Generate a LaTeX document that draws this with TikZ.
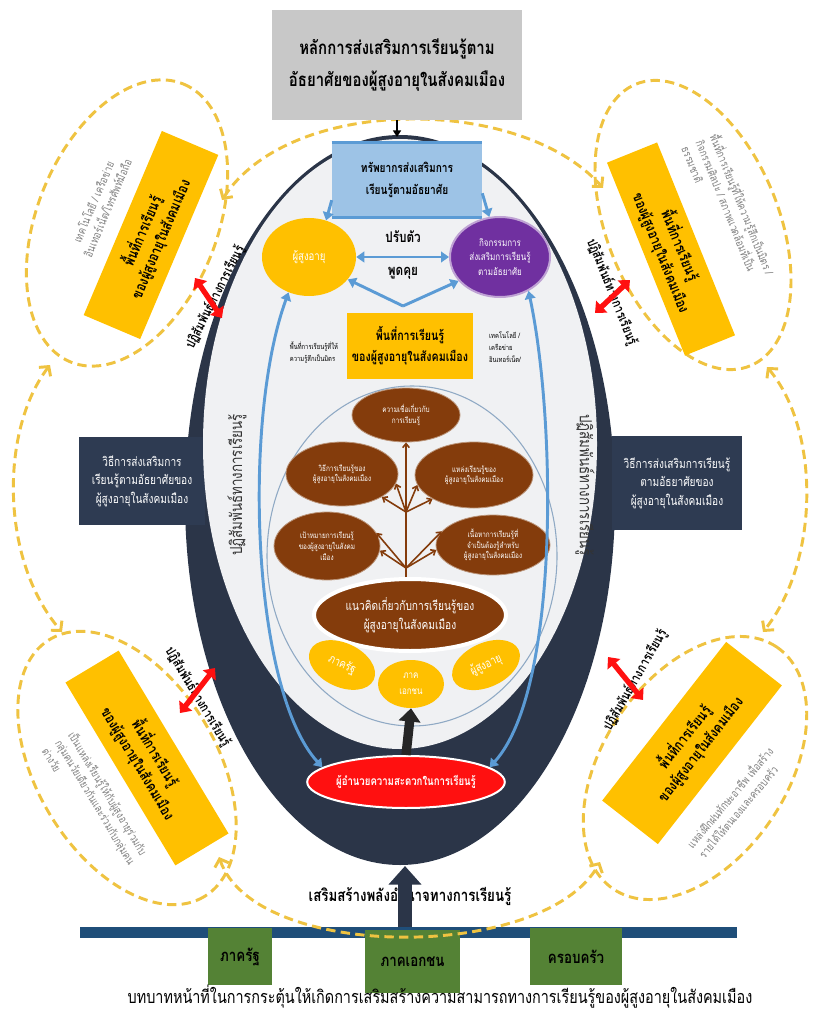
\documentclass[tikz,border=0pt]{standalone}
\usepackage{fontspec}
\setmainfont[Script=Thai,FakeStretch=0.8]{Loma}
\usetikzlibrary{arrows.meta,shapes.geometric}
\definecolor{ringc}{HTML}{2B3548}
\definecolor{navyb}{HTML}{2E3B52}
\definecolor{innerc}{HTML}{F0F1F3}
\definecolor{ylw}{HTML}{FFC000}
\definecolor{dashc}{HTML}{EFC341}
\definecolor{bluea}{HTML}{5B9BD5}
\definecolor{blueb}{HTML}{9DC3E6}
\definecolor{purp}{HTML}{7030A0}
\definecolor{brownc}{HTML}{843C0C}
\definecolor{grn}{HTML}{548235}
\definecolor{barc}{HTML}{1F4E79}
\definecolor{grayb}{HTML}{C8C8C8}
\definecolor{txtg}{HTML}{808080}
\definecolor{redc}{HTML}{FF1010}
\definecolor{thinc}{HTML}{8FA9C4}
\newcommand{\fsz}[2]{\fontsize{#1}{#2}\selectfont}
\tikzset{
  dashy/.style={draw=dashc, line width=2.2pt, dash pattern=on 7pt off 4pt},
  chevs/.style={{Straight Barb[length=5pt,width=11pt]}-{Straight Barb[length=5pt,width=11pt]}},
  cornerbox/.style={fill=ylw, align=center, font=\bfseries\fsz{11}{15}, inner sep=1pt},
  graytext/.style={text=txtg, font=\fsz{8.5}{11.5}},
  ringtext/.style={font=\bfseries\fsz{10}{12}},
  redarrow/.style={draw=redc, line width=4pt, {Triangle[length=7pt,width=12pt]}-{Triangle[length=7pt,width=12pt]}},
  navybox/.style={fill=navyb, text=white, align=center, font=\fsz{9.5}{14}, inner sep=1pt},
  brownnode/.style={ellipse, fill=brownc, draw=brownc!55!white, line width=0.6pt, text=white, align=center, font=\fsz{6}{8}, inner sep=0pt},
  yellownode/.style={ellipse, fill=ylw, text=white, align=center, inner sep=0pt},
  bluearrow/.style={draw=bluea, line width=2.2pt, -{Triangle[length=6pt,width=8pt]}},
  bluedouble/.style={draw=bluea, line width=2.2pt, {Triangle[length=6pt,width=8pt]}-{Triangle[length=6pt,width=8pt]}},
  brownarrow/.style={draw=brownc, line width=1.2pt, -{Straight Barb[length=3pt,width=5pt]}},
  greenbox/.style={fill=grn, text=black, font=\bfseries\fsz{12.5}{14}, inner sep=0pt},
  verttext/.style={font=\fsz{12.5}{14}, text=black!80},
}
\begin{document}
\begin{tikzpicture}[x=0.75pt,y=-0.75pt]
\useasboundingbox (0,0) rectangle (817,1012);
\fill[white] (0,0) rectangle (817,1012);

% corner dashed ellipses
\draw[dashy, rotate around={68:(127,223)}] (127,223) ellipse [x radius=150, y radius=90];
\draw[dashy, rotate around={-68:(693,225)}] (693,225) ellipse [x radius=152, y radius=86];
\draw[dashy, rotate around={-59:(127,768)}] (127,768) ellipse [x radius=150, y radius=90];
\draw[dashy, rotate around={56:(695,768)}] (695,768) ellipse [x radius=146, y radius=92];

% connecting dashed arcs
\coordinate (tlA) at (222,200); \coordinate (trA) at (603,188);
\draw[dashy, chevs] (tlA) .. controls (290,95) and (520,95) .. (trA);
\coordinate (tlB) at (50,365); \coordinate (blB) at (62,632);
\draw[dashy, chevs] (tlB) .. controls (0,430) and (0,560) .. (blB);
\coordinate (trB) at (767,367); \coordinate (brB) at (763,632);
\draw[dashy, chevs] (trB) .. controls (820,430) and (820,560) .. (brB);

% corner boxes and texts
\node[cornerbox, rotate=67, minimum width=150pt, minimum height=46pt] (cTL) at (151,235) {พื้นที่การเรียนรู้\\ของผู้สูงอายุในสังคมเมือง};
\node[graytext, rotate=67, align=center] (gTL) at (100,205) {เทคโนโลยี / เครือข่าย\\อินเทอร์เน็ต/โทรศัพท์มือถือ};
\node[cornerbox, rotate=-68, minimum width=156pt, minimum height=40.5pt] (cTR) at (671,249) {พื้นที่การเรียนรู้\\ของผู้สูงอายุในสังคมเมือง};
\node[graytext, rotate=-68, align=left] (gTR) at (729,210) {พื้นที่การเรียนรู้ที่ให้ความรู้สึกเป็นมิตร /\\กิจกรรมศิลปะ / สภาพแวดล้อมที่เป็น\\ธรรมชาติ};
\node[cornerbox, rotate=-59, minimum width=160pt, minimum height=46.5pt] (cBL) at (147,758) {พื้นที่การเรียนรู้\\ของผู้สูงอายุในสังคมเมือง};
\node[graytext, rotate=-59, align=left] (gBL) at (96,802) {เป็นแหล่งเรียนรู้ให้กับผู้สูงอายุร่วมกับ\\กลุ่มคนวัยเดียวกันและร่วมกับกลุ่มคน\\ต่างวัย};
\node[cornerbox, rotate=52, minimum width=151pt, minimum height=53pt] (cBR) at (692,743) {พื้นที่การเรียนรู้\\ของผู้สูงอายุในสังคมเมือง};
\node[graytext, rotate=50, align=left] (gBR) at (735,802) {แหล่งฝึกฝนทักษะอาชีพ เพื่อสร้าง\\รายได้ให้ตนเองและครอบครัว};

% ring
\fill[ringc] (400,500) ellipse [x radius=215, y radius=365];
\node[navybox, minimum width=94pt, minimum height=66pt] (navyL) at (142,481) {วิธีการส่งเสริมการ\\เรียนรู้ตามอัธยาศัยของ\\ผู้สูงอายุในสังคมเมือง};
\node[navybox, minimum width=97.5pt, minimum height=70pt] (navyR) at (677,483) {วิธีการส่งเสริมการเรียนรู้\\ตามอัธยาศัยของ\\ผู้สูงอายุในสังคมเมือง};
\fill[innerc] (400,444) ellipse [x radius=197, y radius=305];
\draw[thinc, line width=0.8pt] (412,556) ellipse [x radius=145, y radius=170];

% ring texts and red arrows
\node[ringtext, rotate=63] (rtTL) at (215,297) {ปฏิสัมพันธ์ทางการเรียนรู้};
\node[ringtext, rotate=-68] (rtTR) at (612,292) {ปฏิสัมพันธ์ทางการเรียนรู้};
\node[ringtext, rotate=-59] (rtBL) at (198,697) {ปฏิสัมพันธ์ทางการเรียนรู้};
\node[ringtext, rotate=60] (rtBR) at (635,680) {ปฏิสัมพันธ์ทางการเรียนรู้};
\coordinate (raTL1) at (195,278); \coordinate (raTL2) at (222,318);
\coordinate (raTR1) at (595,313); \coordinate (raTR2) at (630,280);
\coordinate (raBL1) at (180,713); \coordinate (raBL2) at (215,668);
\coordinate (raBR1) at (608,657); \coordinate (raBR2) at (643,700);
\draw[redarrow] (raTL1) -- (raTL2);
\draw[redarrow] (raTR1) -- (raTR2);
\draw[redarrow] (raBL1) -- (raBL2);
\draw[redarrow] (raBR1) -- (raBR2);

% vertical texts inside
\node[verttext, rotate=90] (vL) at (237,485) {ปฏิสัมพันธ์ทางการเรียนรู้};
\node[verttext, rotate=-90] (vR) at (585,485) {ปฏิสัมพันธ์ทางการเรียนรู้};

% title box
\node[fill=grayb, minimum width=187.5pt, minimum height=82.5pt, align=center, font=\bfseries\fsz{14}{24}] (title) at (397,65) {หลักการส่งเสริมการเรียนรู้ตาม\\อัธยาศัยของผู้สูงอายุในสังคมเมือง};
\coordinate (ringtop) at (397,137);
\draw[line width=1.5pt, -{Triangle[length=5pt,width=6pt]}] (title.south) -- (ringtop);

% resources box
\node[fill=blueb, minimum width=112.5pt, minimum height=56pt, align=center, font=\bfseries\fsz{9.5}{17}] (res) at (407,180) {ทรัพยากรส่งเสริมการ\\เรียนรู้ตามอัธยาศัย};
\draw[bluea, line width=2.5pt] (res.north west) -- (res.north east);
\draw[bluea, line width=2.5pt] (res.south west) -- (res.south east);

\node[yellownode, minimum width=70.5pt, minimum height=58.5pt, font=\fsz{9}{11}] (eld) at (309,257) {ผู้สูงอายุ};
\node[ellipse, fill=purp, draw=purp!45!white, line width=1.5pt, text=white, align=center, inner sep=0pt, minimum width=75pt, minimum height=60pt, font=\fsz{7.5}{11}] (act) at (500,257) {กิจกรรมการ\\ส่งเสริมการเรียนรู้\\ตามอัธยาศัย};

\draw[bluearrow] (res.195) -- (eld.65);
\draw[bluearrow] (res.-10) -- (act.105);
\draw[bluedouble] (eld.east) -- (act.west);
\node[font=\bfseries\fsz{11}{12}] (adj) at (403,237) {ปรับตัว};
\node[font=\bfseries\fsz{11}{12}] (talk) at (403,273) {พูดคุย};
\coordinate (vtx) at (403,306);
\draw[bluearrow] (vtx) -- (eld.-30);
\draw[bluearrow] (vtx) -- (act.-150);

\node[fill=ylw, minimum width=94pt, minimum height=49pt, align=center, font=\bfseries\fsz{10}{16}] (area) at (410,346) {พื้นที่การเรียนรู้\\ของผู้สูงอายุในสังคมเมือง};
\node[font=\fsz{5.5}{9}, align=left] (smallL) at (314,353) {พื้นที่การเรียนรู้ที่ให้\\ความรู้สึกเป็นมิตร};
\node[font=\fsz{5.5}{9}, align=left] (smallR) at (505,347) {เทคโนโลยี /\\เครือข่าย\\อินเทอร์เน็ต/};

% brown nodes
\node[brownnode, minimum width=81pt, minimum height=40.5pt] (b1) at (406,415) {ความเชื่อเกี่ยวกับ\\การเรียนรู้};
\node[brownnode, minimum width=84pt, minimum height=48pt] (b2) at (342,474) {วิธีการเรียนรู้ของ\\ผู้สูงอายุในสังคมเมือง};
\node[brownnode, minimum width=88.5pt, minimum height=49.5pt] (b3) at (474,475) {แหล่งเรียนรู้ของ\\ผู้สูงอายุในสังคมเมือง};
\node[brownnode, minimum width=79.5pt, minimum height=51pt] (b4) at (327,546) {เป้าหมายการเรียนรู้\\ของผู้สูงอายุในสังคม\\เมือง};
\node[brownnode, minimum width=85.5pt, minimum height=45pt] (b5) at (493,545) {เนื้อหาการเรียนรู้ที่\\จำเป็นต้องรู้สำหรับ\\ผู้สูงอายุในสังคมเมือง};
\node[brownnode, draw=white, line width=3pt, minimum width=144pt, minimum height=54pt, font=\fsz{9.5}{14}] (b6) at (410,615) {แนวคิดเกี่ยวกับการเรียนรู้ของ\\ผู้สูงอายุในสังคมเมือง};

\draw[brownarrow] (b6.north -| b1.south) -- (b1.south);
\coordinate (j1) at (406,512);
\coordinate (j2) at (406,568);
\draw[brownarrow] (j1) -- (b2.-30);
\draw[brownarrow] (j1) -- (b2.-10);
\draw[brownarrow] (j1) -- (b3.-150);
\draw[brownarrow] (j1) -- (b3.-170);
\draw[brownarrow] (j2) -- (b4.-5);
\draw[brownarrow] (j2) -- (b4.15);
\draw[brownarrow] (j2) -- (b5.185);
\draw[brownarrow] (j2) -- (b5.165);

% yellow bottom nodes
\node[yellownode, rotate=-25, minimum width=52.5pt, minimum height=33pt, font=\fsz{9}{10}] (yg) at (342,665) {ภาครัฐ};
\node[yellownode, minimum width=49.5pt, minimum height=36pt, font=\fsz{7.5}{12}] (yp) at (411,684) {ภาค\\เอกชน};
\node[yellownode, rotate=25, minimum width=54pt, minimum height=33pt, font=\fsz{9}{10}] (ye) at (486,665) {ผู้สูงอายุ};

% facilitator
\node[ellipse, fill=redc, draw=white, line width=1.5pt, minimum width=142.5pt, minimum height=39pt, text=white, font=\bfseries\fsz{9}{10}, inner sep=0pt] (fac) at (406,782) {ผู้อำนวยความสะดวกในการเรียนรู้};
\draw[line width=7pt, draw=black!85, -{Triangle[length=10pt,width=16pt]}] (fac.north) -- (yp.south);
\draw[bluedouble] (fac.170) .. controls (252,690) and (242,420) .. (eld.-120);
\draw[bluedouble] (fac.10) .. controls (560,690) and (556,420) .. (act.-50);

% bottom
\fill[barc] (80,927) rectangle (737,938);
\node[greenbox, minimum width=48pt, minimum height=42.75pt] (g1) at (240,956.5) {ภาครัฐ};
\node[greenbox, minimum width=71pt, minimum height=47pt] (g2) at (412.5,961.5) {ภาคเอกชน};
\node[greenbox, minimum width=69pt, minimum height=42.75pt] (g3) at (576,956.5) {ครอบครัว};
\coordinate (blC) at (219,857); \coordinate (brC) at (600,862);
\draw[dashy, chevs] (blC) .. controls (255,962) and (545,962) .. (brC);
\node[font=\bfseries\fsz{12.5}{14}] (strength) at (410,896) {เสริมสร้างพลังอำนาจทางการเรียนรู้};
\coordinate (barTop) at (405,927); \coordinate (ringBot) at (405,866);
\draw[line width=10pt, draw=ringc, -{Triangle[length=14pt,width=24pt]}] (barTop) -- (ringBot);
\node[font=\fsz{13.5}{14}] (cap) at (440,997) {บทบาทหน้าที่ในการกระตุ้นให้เกิดการเสริมสร้างความสามารถทางการเรียนรู้ของผู้สูงอายุในสังคมเมือง};
\end{tikzpicture}
\end{document}
